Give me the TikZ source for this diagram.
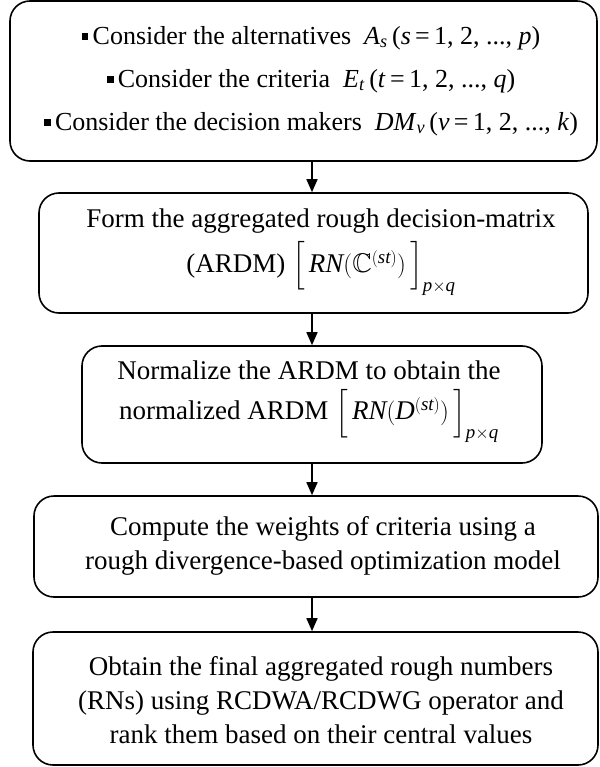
\documentclass[tikz,border=0pt]{standalone}
\usepackage{amsmath,amssymb}
\usepackage{fontspec}
\setmainfont{Liberation Serif}
\usetikzlibrary{arrows.meta}
\newcommand{\sqb}{\rule[0.18em]{0.26em}{0.26em}\,}
\begin{document}
\begin{tikzpicture}[x=1pt,y=-1pt,
  box/.style={draw,line width=1.6pt,rounded corners=20pt,inner sep=0pt},
  txt/.style={align=center,inner sep=0pt},
  arr/.style={line width=1.6pt,-{Triangle[length=13pt,width=11pt]}}]
\useasboundingbox (0,0) rectangle (599,767);
% boxes
\node[box,minimum width=587pt,minimum height=160pt] (b1) at (303.5,81) {};
\node[box,minimum width=549pt,minimum height=120pt] (b2) at (313.5,253) {};
\node[box,minimum width=460pt,minimum height=117pt] (b3) at (312,404.5) {};
\node[box,minimum width=564pt,minimum height=101pt] (b4) at (316,546.5) {};
\node[box,minimum width=565pt,minimum height=133pt] (b5) at (315.5,698.5) {};
% texts
\node[txt,font=\fontsize{26}{43}\selectfont] (t1) at (311,81)
 {\sqb Consider the alternatives\ \ \textit{A}\textsubscript{\textit{s}}\,(\textit{s}\,=\,1, 2, ..., \textit{p})\\
  \sqb Consider the criteria\ \ \textit{E}\textsubscript{\textit{t}}\,(\textit{t}\,=\,1, 2, ..., \textit{q})\\
  \sqb Consider the decision makers\ \ \textit{DM}\textsubscript{\textit{v}}\,(\textit{v}\,=\,1, 2, ..., \textit{k})};
\node[txt,font=\fontsize{27}{45}\selectfont] (t2) at (321,252)
 {Form the aggregated rough decision-matrix\\
  (ARDM) $\Big[\,\mathit{RN}(\mathbb{C}^{(\mathit{st})})\,\Big]_{\mathit{p}\times \mathit{q}}$};
\node[txt,font=\fontsize{27}{40}\selectfont] (t3) at (309,402)
 {Normalize the ARDM to obtain the\\
  normalized ARDM $\Big[\,\mathit{RN}(\mathit{D}^{(\mathit{st})})\,\Big]_{\mathit{p}\times \mathit{q}}$};
\node[txt,font=\fontsize{27}{34}\selectfont] (t4) at (323,546)
 {Compute the weights of criteria using a\\
  rough divergence-based optimization model};
\node[txt,font=\fontsize{27}{34}\selectfont] (t5) at (321,700)
 {Obtain the final aggregated rough numbers\\
  (RNs) using RCDWA/RCDWG operator and\\
  rank them based on their central values};
% arrows
\coordinate (ax) at (312,0);
\draw[arr] (b1.south -| ax) -- (b2.north -| ax);
\draw[arr] (b2.south -| ax) -- (b3.north -| ax);
\draw[arr] (b3.south -| ax) -- (b4.north -| ax);
\draw[arr] (b4.south -| ax) -- (b5.north -| ax);
\end{tikzpicture}
\end{document}
